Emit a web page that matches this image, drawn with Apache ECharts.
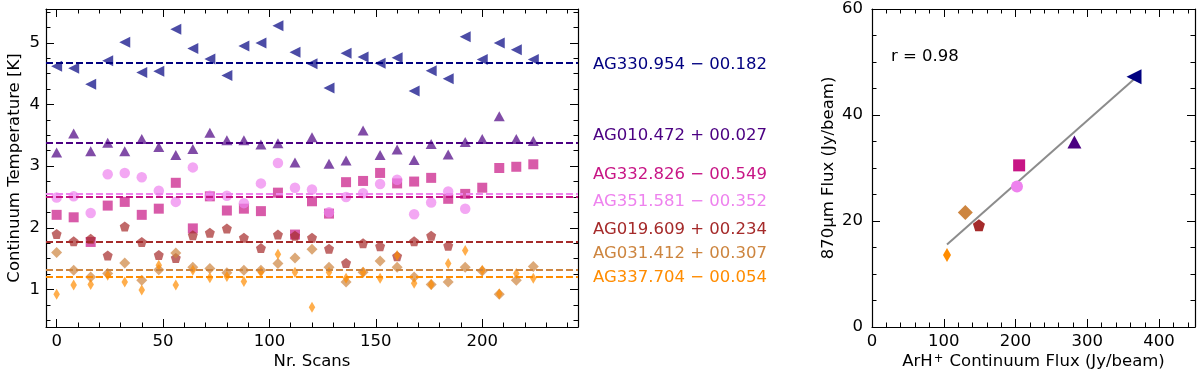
<!DOCTYPE html>
<html><head><meta charset="utf-8">
<script src="https://cdn.jsdelivr.net/npm/echarts@6/dist/echarts.min.js"></script>
<style>html,body{margin:0;padding:0;background:#fff}#c{width:1200px;height:379px}</style>
</head><body><div id="c"></div>
<script>
// ---------- data ----------
const sourceNames = ['AG330.954 \u2212 00.182','AG010.472 + 00.027','AG332.826 \u2212 00.549','AG351.581 \u2212 00.352','AG019.609 + 00.234','AG031.412 + 00.307','AG337.704 \u2212 00.054'];
const sourceColors = ['#000080','#4B0082','#C71585','#EE82EE','#A52A2A','#CD853F','#FF8C00'];
const scans = [0,8,16,24,32,40,48,56,64,72,80,88,96,104,112,120,128,136,144,152,160,168,176,184,192,200,208,216,224];
const tAG330 = [4.62,4.59,4.33,4.71,5.01,4.52,4.54,5.22,4.91,4.74,4.47,4.95,5.00,5.28,4.85,4.66,4.27,4.83,4.77,4.67,4.76,4.22,4.55,4.42,5.10,4.73,5.00,4.89,4.73];
const tAG010 = [3.22,3.53,3.24,3.38,3.24,3.44,3.31,3.18,3.28,3.54,3.42,3.42,3.35,3.37,3.06,3.47,3.04,3.09,3.58,3.18,3.27,3.10,3.36,3.19,3.39,3.44,3.81,3.44,3.41];
const tAG332 = [2.21,2.17,1.77,2.36,2.42,2.21,2.31,2.73,1.99,2.51,2.28,2.31,2.27,2.57,1.89,2.43,2.23,2.74,2.76,2.89,2.72,2.75,2.81,2.47,2.55,2.65,2.97,2.99,3.03];
const tAG351 = [2.49,2.51,2.24,2.87,2.89,2.82,2.60,2.42,2.98,2.52,2.52,2.40,2.72,3.05,2.65,2.62,2.25,2.50,2.56,2.71,2.78,2.22,2.41,2.59,2.31];
const tAG019 = [1.90,1.78,1.82,1.55,2.02,1.77,1.56,1.51,1.88,1.92,1.99,1.84,1.67,1.89,1.87,1.84,1.66,1.43,1.75,1.70,1.54,1.78,1.87,1.71];
const tAG031 = [1.60,1.31,1.20,1.26,1.43,1.15,1.32,1.59,1.36,1.34,1.27,1.31,1.31,1.42,1.51,1.65,1.36,1.12,1.28,1.46,1.36,1.20,1.08,1.12,1.36,1.30,0.92,1.15,1.37];
const tAG337 = [0.92,1.07,1.08,1.23,1.12,0.99,1.39,1.07,1.31,1.19,1.21,1.13,1.28,1.57,1.28,0.71,1.28,1.18,1.28,1.18,1.55,1.10,1.08,1.42,1.63,1.31,0.93,1.26,1.18];
const meanLevels = [4.67,3.38,2.50,2.56,1.78,1.32,1.20];
const arhFlux = [365,282,205,202,149,130,104.5];
const flux870 = [47.2,34.9,30.5,26.5,19.2,21.6,13.6];
const xTicksLeft = [0,50,100,150,200];
const yTicksLeft = [1,2,3,4,5];
const xTicksRight = [0,100,200,300,400];
const yTicksRight = [0,20,40,60];
const corrText = 'r = 0.98';

const tempSeries = [tAG330,tAG010,tAG332,tAG351,tAG019,tAG031,tAG337];

// ---------- styling ----------
const FONT = 'DejaVu Sans';
const FS = 16.5;
const symbols = [
  {s:'triangle', rot:90, left:[11,11], right:[15,15]},
  {s:'triangle', rot:0, left:[11,10], right:[14,13]},
  {s:'rect', rot:0, left:[10,10], right:[12,12]},
  {s:'circle', rot:0, left:[10.5,10.5], right:[12,12]},
  {s:'path://M0,-1L0.951,-0.309L0.588,0.809L-0.588,0.809L-0.951,-0.309Z', rot:0, left:[10,10], right:[12,12]},
  {s:'diamond', rot:0, left:[11,11], right:[15,15]},
  {s:'diamond', rot:0, left:[6.5,11], right:[8,14]}
];
const labelY = [65,136,175,201.7,230,253.3,277.3];

function range(a,b,step){const r=[];for(let v=a;v<=b+1e-9;v+=step)r.push(+v.toFixed(4));return r;}
const xMinorLeft = range(0,240,10);
const yMinorLeft = range(0.5,5.5,0.25);
const xMinorRight = range(0,440,20);
const yMinorRight = range(0,60,5);

const GL = {left:46, top:9, width:532, height:318};
const GR = {left:872, top:9, width:323, height:318};

function mkAxis(gridIndex, position, min, max, ticks, tickLen, minor, showLabel, margin){
  return {
    type:'value', gridIndex, position, min, max, silent:true,
    axisLine:{show:!minor, onZero:false, lineStyle:{color:'#000', width:1.2}},
    axisTick:{show:true, inside:true, length:tickLen, customValues:ticks, lineStyle:{color:'#000', width:1}},
    axisLabel:{show:showLabel, inside:false, hideOverlap:false, customValues:ticks, margin, color:'#000', fontFamily:FONT, fontSize:FS},
    splitLine:{show:false}, minorTick:{show:false}
  };
}
const xL=[-5,245], yL=[0.39,5.55], xR=[0,450], yR=[0,60];
const xAxes = [
  mkAxis(0,'bottom',xL[0],xL[1],xTicksLeft,8,false,true,6),
  mkAxis(0,'top',xL[0],xL[1],xTicksLeft,8,false,false,6),
  mkAxis(1,'bottom',xL[0],xL[1],xMinorLeft,4.5,true,false,6),
  mkAxis(1,'top',xL[0],xL[1],xMinorLeft,4.5,true,false,6),
  mkAxis(2,'bottom',xR[0],xR[1],xTicksRight,8,false,true,6),
  mkAxis(2,'top',xR[0],xR[1],xTicksRight,8,false,false,6),
  mkAxis(3,'bottom',xR[0],xR[1],xMinorRight,4.5,true,false,6),
  mkAxis(3,'top',xR[0],xR[1],xMinorRight,4.5,true,false,6)
];
const yAxes = [
  mkAxis(0,'left',yL[0],yL[1],yTicksLeft,8,false,true,6),
  mkAxis(0,'right',yL[0],yL[1],yTicksLeft,8,false,false,6),
  mkAxis(1,'left',yL[0],yL[1],yMinorLeft,4.5,true,false,6),
  mkAxis(1,'right',yL[0],yL[1],yMinorLeft,4.5,true,false,6),
  mkAxis(2,'left',yR[0],yR[1],yTicksRight,8,false,true,9),
  mkAxis(2,'right',yR[0],yR[1],yTicksRight,8,false,false,9),
  mkAxis(3,'left',yR[0],yR[1],yMinorRight,4.5,true,false,9),
  mkAxis(3,'right',yR[0],yR[1],yMinorRight,4.5,true,false,9)
];

const series = [];
tempSeries.forEach((vals,i)=>{
  series.push({
    type:'scatter', xAxisIndex:0, yAxisIndex:0, name:sourceNames[i],
    data: vals.map((v,k)=>[scans[k], v]),
    symbol: symbols[i].s, symbolRotate: symbols[i].rot, symbolSize: symbols[i].left,
    itemStyle:{color:sourceColors[i], opacity:0.7},
    z: 2,
    markLine:{silent:true, symbol:['none','none'], label:{show:false}, animation:false,
      lineStyle:{color:sourceColors[i], width:1.8, type:[7,3], opacity:1},
      emphasis:{disabled:true},
      data:[{yAxis: meanLevels[i]}]}
  });
});

// least-squares fit line from the right-panel points
(function(){
  const n=arhFlux.length; let mx=0,my=0;
  for(let i=0;i<n;i++){mx+=arhFlux[i];my+=flux870[i];} mx/=n; my/=n;
  let sxy=0,sxx=0; for(let i=0;i<n;i++){sxy+=(arhFlux[i]-mx)*(flux870[i]-my); sxx+=(arhFlux[i]-mx)**2;}
  const b=sxy/sxx, a=my-b*mx;
  const x0=Math.min(...arhFlux), x1=Math.max(...arhFlux);
  series.push({type:'line', xAxisIndex:4, yAxisIndex:4, data:[[x0,a+b*x0],[x1,a+b*x1]],
    showSymbol:false, symbol:'none', lineStyle:{color:'#8c8c8c', width:2}, z:1, silent:true});
})();
arhFlux.forEach((x,i)=>{
  series.push({type:'scatter', xAxisIndex:4, yAxisIndex:4, data:[[x, flux870[i]]],
    symbol: symbols[i].s, symbolRotate: symbols[i].rot, symbolSize: symbols[i].right,
    itemStyle:{color:sourceColors[i], opacity:1}, z:3});
});

function txt(x,y,text,opts){
  opts=opts||{};
  return {type:'text', x, y, rotation:opts.rot||0, silent:true, z:10,
    style:Object.assign({text, fill:opts.color||'#000', font:FS+'px "'+FONT+'"', fontFamily:FONT, fontSize:FS,
      align:opts.align||'center', verticalAlign:'middle', textAlign:opts.align||'center', textVerticalAlign:'middle'}, opts.extra||{})};
}
const graphic = [
  txt(15,168,'Continuum Temperature [K]',{rot:Math.PI/2}),
  txt(GL.left+GL.width/2,362,'Nr. Scans'),
  txt(829,168,'870\u00b5m Flux (Jy/beam)',{rot:Math.PI/2}),
  txt(GR.left+GR.width/2,362,'ArH{sup|+} Continuum Flux (Jy/beam)',{extra:{rich:{sup:{fontSize:11.5,fontFamily:FONT,fill:'#000',verticalAlign:'top',padding:[0,1,6,1]}}}}),
  txt(891,57,corrText,{align:'left'})
];
sourceNames.forEach((n,i)=>graphic.push(txt(593,labelY[i],n,{align:'left',color:sourceColors[i]})));

const chart = echarts.init(document.getElementById('c'), null, {renderer:'canvas'});
chart.setOption({
  animation:false,
  backgroundColor:'#fff',
  textStyle:{fontFamily:FONT},
  grid:[
    Object.assign({containLabel:false, outerBoundsMode:'none'},GL),
    Object.assign({containLabel:false, outerBoundsMode:'none'},GL),
    Object.assign({containLabel:false, outerBoundsMode:'none'},GR),
    Object.assign({containLabel:false, outerBoundsMode:'none'},GR)
  ],
  xAxis:xAxes, yAxis:yAxes, series, graphic
});
</script></body></html>
